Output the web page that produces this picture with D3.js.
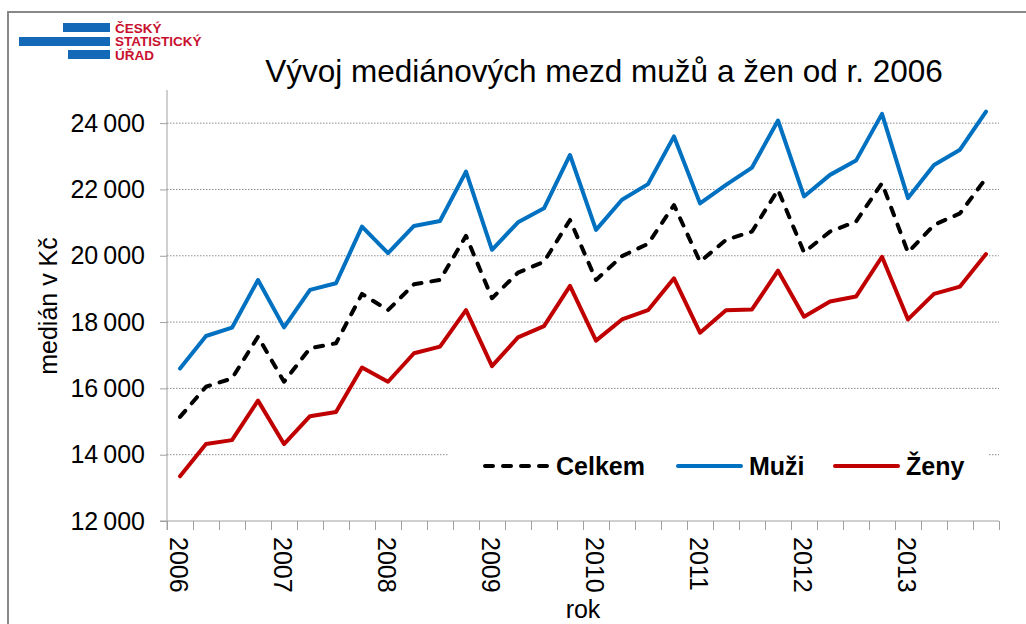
<!DOCTYPE html>
<html>
<head>
<meta charset="utf-8">
<script src="https://cdn.jsdelivr.net/npm/d3@7"></script>
<style>
  body { margin: 0; background: #fff; }
  svg text { font-family: "Liberation Sans", Arial, sans-serif; }
</style>
</head>
<body>
<div id="chart"></div>
<script>
// data (quarterly medians, CZK)
var years = ["2006", "2007", "2008", "2009", "2010", "2011", "2012", "2013"];
var quarters = ["Q1", "Q2", "Q3", "Q4"];
var categories = years.flatMap(y => quarters.map(q => y + q));

var celkem = [15140, 16050, 16300, 17560, 16200, 17210, 17360, 18850,
              18360, 19140, 19270, 20600, 18720, 19490, 19820, 21080,
              19270, 19990, 20360, 21530, 19820, 20480, 20730, 21990,
              20100, 20730, 21030, 22190, 20100, 20930, 21280, 22340];
var muzi   = [16600, 17580, 17830, 19270, 17840, 18970, 19170, 20880,
              20080, 20900, 21050, 22540, 20180, 21010, 21430, 23040,
              20780, 21690, 22160, 23600, 21580, 22140, 22660, 24080,
              21790, 22440, 22870, 24280, 21740, 22740, 23200, 24350];
var zeny   = [13350, 14320, 14440, 15630, 14320, 15160, 15290, 16630,
              16200, 17060, 17260, 18360, 16670, 17540, 17880, 19090,
              17440, 18080, 18360, 19320, 17680, 18360, 18380, 19550,
              18160, 18620, 18770, 19970, 18080, 18850, 19070, 20050];

var yTicks = [12000, 14000, 16000, 18000, 20000, 22000, 24000];

var seriesNames = ["Celkem", "Muži", "Ženy"];
var seriesColors = ["#000000", "#0070C0", "#C00000"];

var width = 1026, height = 624;
var margin = {top: 90, bottom: 103, left: 167, right: 27};
var chartWidth = width - margin.left - margin.right;
var chartHeight = height - margin.top - margin.bottom;

var svg = d3.select("#chart").append("svg")
    .attr("width", width)
    .attr("height", height);

svg.append("rect")
    .attr("width", width).attr("height", height)
    .attr("fill", "#fff");

// outer frame
svg.append("rect")
    .attr("x", 8).attr("y", 12)
    .attr("width", width + 10).attr("height", height + 10)
    .attr("fill", "none")
    .attr("stroke", "#888")
    .attr("stroke-width", 2);

// logo
var logo = svg.append("g");
logo.append("rect").attr("x", 63).attr("y", 23).attr("width", 47).attr("height", 9).attr("fill", "#1468b8");
logo.append("rect").attr("x", 19).attr("y", 37).attr("width", 91).attr("height", 9).attr("fill", "#1468b8");
logo.append("rect").attr("x", 68).attr("y", 50).attr("width", 42).attr("height", 9).attr("fill", "#1468b8");
["ČESKÝ", "STATISTICKÝ", "ÚŘAD"].forEach(function(t, i) {
    logo.append("text")
        .attr("x", 115).attr("y", 32.5 + i * 13.5)
        .attr("font-size", 13.5)
        .attr("font-weight", "bold")
        .attr("fill", "#c8102e")
        .text(t);
});

// title
svg.append("text")
    .attr("x", 604).attr("y", 82)
    .attr("text-anchor", "middle")
    .attr("font-size", 31.5)
    .attr("fill", "#000")
    .text("Vývoj mediánových mezd mužů a žen od r. 2006");

var chartGroup = svg.append("g")
    .attr("transform", `translate(${margin.left},${margin.top})`);

// scales
var xBand = d3.scaleBand()
    .domain(categories)
    .range([0, chartWidth]);

var xIdx = d3.scaleLinear()
    .domain([0, categories.length])
    .range([0, chartWidth]);

var yScale = d3.scaleLinear()
    .domain([12000, 25000])
    .range([chartHeight, 0]);

// gridlines
chartGroup.append("g")
    .selectAll("line")
    .data(yTicks.slice(1))
    .enter()
    .append("line")
        .attr("x1", 0).attr("x2", chartWidth)
        .attr("y1", d => yScale(d)).attr("y2", d => yScale(d))
        .attr("stroke", "#8c8c8c")
        .attr("stroke-width", 1)
        .attr("stroke-dasharray", "1.5,1.5");

// axes
var yAxis = d3.axisLeft(yScale)
    .tickValues(yTicks)
    .tickSize(7)
    .tickPadding(15)
    .tickFormat(d => d3.format(",")(d).replace(",", "\u2009"));

var yG = chartGroup.append("g").call(yAxis);
yG.select(".domain").attr("stroke", "#a0a0a0").attr("d", `M0,0V${chartHeight + 9}`);
yG.selectAll(".tick line").attr("stroke", "#a0a0a0");
yG.selectAll(".tick text")
    .attr("font-size", 25)
    .attr("font-family", "'Liberation Sans', Arial, sans-serif")
    .attr("fill", "#000");

var xAxis = d3.axisBottom(xIdx)
    .tickValues(d3.range(categories.length + 1))
    .tickSize(9)
    .tickFormat("");

var xG = chartGroup.append("g")
    .attr("transform", `translate(0,${chartHeight})`)
    .call(xAxis);
xG.select(".domain").attr("stroke", "#a0a0a0").attr("d", `M-7,0H${chartWidth}`);
xG.selectAll(".tick line").attr("stroke", "#a0a0a0");

// year labels, rotated, at first quarter of each year
chartGroup.append("g")
    .selectAll("text")
    .data(years)
    .enter()
    .append("text")
        .attr("transform", d => `translate(${xBand(d + "Q1") + xBand.bandwidth() / 2 - 1},${chartHeight + 16}) rotate(90)`)
        .attr("dy", "0.35em")
        .attr("font-size", 25)
        .text(d => d);

// axis titles
svg.append("text")
    .attr("x", margin.left + chartWidth / 2)
    .attr("y", 618)
    .attr("text-anchor", "middle")
    .attr("font-size", 25)
    .text("rok");

svg.append("text")
    .attr("transform", "translate(57,306) rotate(-90)")
    .attr("text-anchor", "middle")
    .attr("font-size", 25)
    .text("medián v Kč");

// legend background (hides part of the 14 000 gridline)
var legend = svg.append("g");
legend.append("rect")
    .attr("x", 448).attr("y", 440)
    .attr("width", 540).attr("height", 54)
    .attr("fill", "#fff");

var legendX = [483, 676, 833];
[celkem, muzi, zeny].forEach(function(series, i) {
    var line = d3.line()
        .x((d, j) => xBand(categories[j]) + xBand.bandwidth() / 2)
        .y(d => yScale(d));

    chartGroup.append("path")
        .datum(series)
        .attr("d", line)
        .attr("fill", "none")
        .attr("stroke", seriesColors[i])
        .attr("stroke-width", 4)
        .attr("stroke-linejoin", "round")
        .attr("stroke-linecap", "round")
        .attr("stroke-dasharray", i === 0 ? "8,10" : null);

    legend.append("line")
        .attr("x1", legendX[i] + 2).attr("x2", legendX[i] + 65)
        .attr("y1", 466).attr("y2", 466)
        .attr("stroke", seriesColors[i])
        .attr("stroke-width", 4)
        .attr("stroke-linecap", "round")
        .attr("stroke-dasharray", i === 0 ? "8,10" : null);

    legend.append("text")
        .attr("x", legendX[i] + 73)
        .attr("y", 466)
        .attr("dy", "0.35em")
        .attr("font-size", 25)
        .attr("font-weight", "bold")
        .text(seriesNames[i]);
});
</script>
</body>
</html>
